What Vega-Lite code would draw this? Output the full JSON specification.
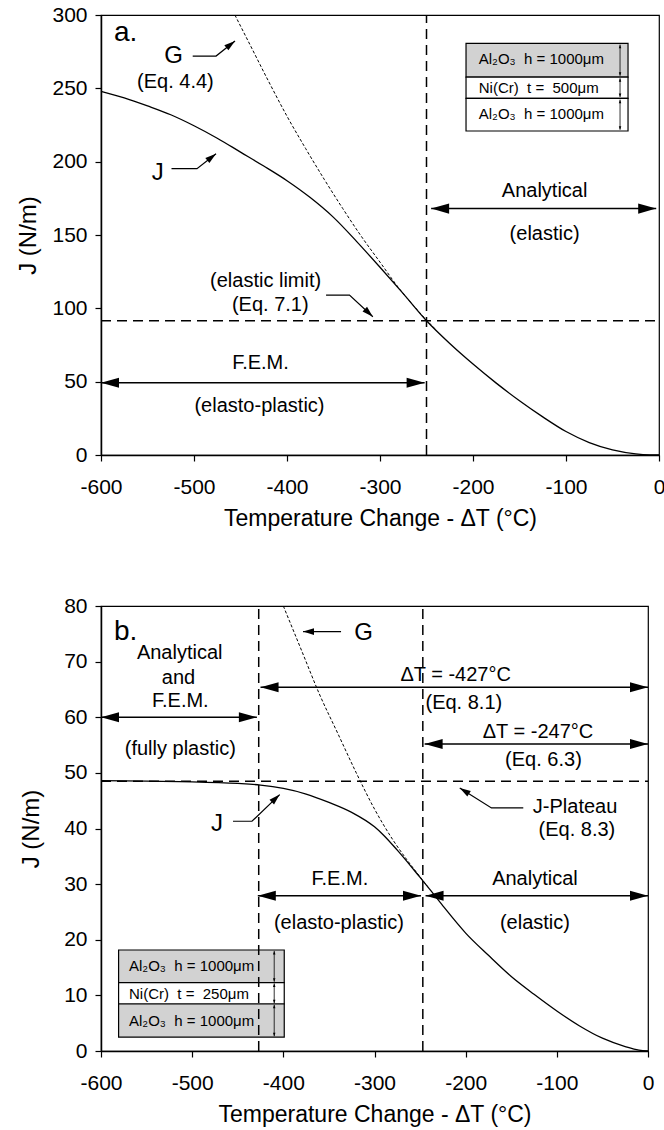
{
  "$schema": "https://vega.github.io/schema/vega-lite/v6.json",
  "padding": {"left": 16, "top": 3, "right": 0, "bottom": 0},
  "spacing": 63,
  "resolve": {"scale": {"color": "independent"}},
  "config": {
    "font": "Liberation Sans",
    "view": {"stroke": "black", "strokeWidth": 1.2},
    "axis": {"grid": false, "domainColor": "black", "domainWidth": 1.5, "tickColor": "black", "tickWidth": 1.2, "labelColor": "black", "titleColor": "black", "labelFontSize": 21, "titleFontWeight": "normal", "tickSize": 6, "labelFlush": false, "labelOverlap": false},
    "axisX": {"labelPadding": 15, "titlePadding": 10, "titleFontSize": 23},
    "axisY": {"labelPadding": 8, "titleFontSize": 24},
    "text": {"color": "black"}
  },
  "datasets": {
    "a_curves": [
      {"curve": "J", "T": -600, "J": 248}, {"curve": "J", "T": -575, "J": 243.5}, {"curve": "J", "T": -550, "J": 238}, {"curve": "J", "T": -525, "J": 232}, {"curve": "J", "T": -500, "J": 224.5}, {"curve": "J", "T": -475, "J": 216}, {"curve": "J", "T": -450, "J": 206.5}, {"curve": "J", "T": -425, "J": 197}, {"curve": "J", "T": -400, "J": 187}, {"curve": "J", "T": -375, "J": 175.5}, {"curve": "J", "T": -350, "J": 162}, {"curve": "J", "T": -325, "J": 145.5}, {"curve": "J", "T": -300, "J": 128}, {"curve": "J", "T": -275, "J": 110}, {"curve": "J", "T": -250, "J": 91.5}, {"curve": "J", "T": -225, "J": 76}, {"curve": "J", "T": -200, "J": 62}, {"curve": "J", "T": -175, "J": 49}, {"curve": "J", "T": -150, "J": 37}, {"curve": "J", "T": -125, "J": 26}, {"curve": "J", "T": -100, "J": 16}, {"curve": "J", "T": -75, "J": 8.5}, {"curve": "J", "T": -50, "J": 3.5}, {"curve": "J", "T": -25, "J": 0.8}, {"curve": "J", "T": -10, "J": 0.1}, {"curve": "J", "T": 0, "J": 0},
      {"curve": "G", "T": -456, "J": 300}, {"curve": "G", "T": -440, "J": 280}, {"curve": "G", "T": -420, "J": 255}, {"curve": "G", "T": -400, "J": 231}, {"curve": "G", "T": -380, "J": 209}, {"curve": "G", "T": -360, "J": 188}, {"curve": "G", "T": -340, "J": 168}, {"curve": "G", "T": -320, "J": 149}, {"curve": "G", "T": -300, "J": 131.5}, {"curve": "G", "T": -280, "J": 114}, {"curve": "G", "T": -260, "J": 99}, {"curve": "G", "T": -250, "J": 92}, {"curve": "G", "T": -240, "J": 85.5}
    ],
    "a_refs": [
      {"T": -250, "T2": -250, "J": 0, "J2": 300},
      {"T": -600, "T2": 0, "J": 91.5, "J2": 91.5}
    ],
    "a_spans": [
      {"T": -245, "T2": -3, "J": 168},
      {"T": -600, "T2": -252, "J": 49.3}
    ],
    "a_ptr": [
      {"id": "G", "o": 1, "T": -501.4, "J": 272}, {"id": "G", "o": 2, "T": -476.3, "J": 272}, {"id": "G", "o": 3, "T": -455.9, "J": 282.3},
      {"id": "J", "o": 1, "T": -524.2, "J": 195.2}, {"id": "J", "o": 2, "T": -496.8, "J": 195.2}, {"id": "J", "o": 3, "T": -476.3, "J": 205.4},
      {"id": "EL", "o": 1, "T": -358, "J": 109}, {"id": "EL", "o": 2, "T": -332.8, "J": 109}, {"id": "EL", "o": 3, "T": -307.7, "J": 94.3}
    ],
    "a_inset": [
      {"ply": "upper Al2O3", "T": -207.5, "T2": -33.3, "J": 257.7, "J2": 280.7},
      {"ply": "Ni(Cr)", "T": -207.5, "T2": -33.3, "J": 243.2, "J2": 257.7},
      {"ply": "lower Al2O3", "T": -207.5, "T2": -33.3, "J": 220.9, "J2": 243.2}
    ],
    "a_dims": [
      {"T": -41.9, "J": 258.6, "J2": 279.8},
      {"T": -41.9, "J": 244.1, "J2": 256.8},
      {"T": -41.9, "J": 221.8, "J2": 242.3}
    ],
    "a_text": [
      {"kind": "tag", "T": -586, "J": 282, "text": "a."},
      {"kind": "big", "T": -522, "J": 272, "text": "G"},
      {"kind": "note", "T": -520, "J": 254.3, "text": "(Eq. 4.4)"},
      {"kind": "big", "T": -539, "J": 192.6, "text": "J"},
      {"kind": "note", "T": -423, "J": 118.6, "text": "(elastic limit)"},
      {"kind": "note", "T": -418, "J": 102, "text": "(Eq. 7.1)"},
      {"kind": "note", "T": -123, "J": 180.3, "text": "Analytical"},
      {"kind": "note", "T": -123, "J": 150.7, "text": "(elastic)"},
      {"kind": "note", "T": -428.5, "J": 62.7, "text": "F.E.M."},
      {"kind": "note", "T": -429.6, "J": 33.4, "text": "(elasto-plastic)"},
      {"kind": "inset", "T": -193.8, "J": 270, "text": "Al₂O₃\u00a0\u00a0h = 1000μm"},
      {"kind": "inset", "T": -193.8, "J": 250.4, "text": "Ni(Cr)\u00a0\u00a0t =\u00a0\u00a0500μm"},
      {"kind": "inset", "T": -193.8, "J": 232.5, "text": "Al₂O₃\u00a0\u00a0h = 1000μm"}
    ],
    "b_curves": [
      {"curve": "J", "T": -600, "J": 48.6}, {"curve": "J", "T": -550, "J": 48.5}, {"curve": "J", "T": -500, "J": 48.4}, {"curve": "J", "T": -450, "J": 48.1}, {"curve": "J", "T": -425, "J": 47.8}, {"curve": "J", "T": -400, "J": 47.2}, {"curve": "J", "T": -375, "J": 46.2}, {"curve": "J", "T": -350, "J": 44.7}, {"curve": "J", "T": -325, "J": 42.9}, {"curve": "J", "T": -300, "J": 40.3}, {"curve": "J", "T": -290, "J": 38.8}, {"curve": "J", "T": -275, "J": 36.1}, {"curve": "J", "T": -260, "J": 33.2}, {"curve": "J", "T": -250, "J": 31.2}, {"curve": "J", "T": -240, "J": 29.2}, {"curve": "J", "T": -225, "J": 26.1}, {"curve": "J", "T": -200, "J": 21.2}, {"curve": "J", "T": -175, "J": 17.2}, {"curve": "J", "T": -150, "J": 13.4}, {"curve": "J", "T": -125, "J": 10.2}, {"curve": "J", "T": -100, "J": 7.2}, {"curve": "J", "T": -75, "J": 4.5}, {"curve": "J", "T": -50, "J": 2.3}, {"curve": "J", "T": -25, "J": 0.8}, {"curve": "J", "T": -10, "J": 0.15}, {"curve": "J", "T": 0, "J": 0},
      {"curve": "G", "T": -400, "J": 80}, {"curve": "G", "T": -380, "J": 72}, {"curve": "G", "T": -360, "J": 64}, {"curve": "G", "T": -340, "J": 57}, {"curve": "G", "T": -320, "J": 50}, {"curve": "G", "T": -300, "J": 43.5}, {"curve": "G", "T": -280, "J": 38}, {"curve": "G", "T": -265, "J": 34.5}, {"curve": "G", "T": -250, "J": 31.3}, {"curve": "G", "T": -240, "J": 29.2}
    ],
    "b_refs": [
      {"T": -427, "T2": -427, "J": 0, "J2": 80},
      {"T": -247, "T2": -247, "J": 0, "J2": 80},
      {"T": -600, "T2": 0, "J": 48.5, "J2": 48.5}
    ],
    "b_spans": [
      {"T": -600, "T2": -429, "J": 60},
      {"T": -425, "T2": 0, "J": 65.4},
      {"T": -245, "T2": 0, "J": 55.2},
      {"T": -428, "T2": -249, "J": 27.9},
      {"T": -244, "T2": 0, "J": 27.9}
    ],
    "b_ptr": [
      {"id": "G", "o": 1, "T": -336.7, "J": 75.4}, {"id": "G", "o": 2, "T": -378.4, "J": 75.4},
      {"id": "JP", "o": 1, "T": -136.8, "J": 43.7}, {"id": "JP", "o": 2, "T": -171.7, "J": 43.7}, {"id": "JP", "o": 3, "T": -206.5, "J": 47.3},
      {"id": "J", "o": 1, "T": -455.2, "J": 41.3}, {"id": "J", "o": 2, "T": -434.4, "J": 41.3}, {"id": "J", "o": 3, "T": -404, "J": 46.1}
    ],
    "b_inset": [
      {"ply": "upper Al2O3", "T": -580.7, "T2": -399, "J": 12.3, "J2": 18.16},
      {"ply": "Ni(Cr)", "T": -580.7, "T2": -399, "J": 8.45, "J2": 12.3},
      {"ply": "lower Al2O3", "T": -580.7, "T2": -399, "J": 2.5, "J2": 8.45}
    ],
    "b_dims": [
      {"T": -410, "J": 12.45, "J2": 18},
      {"T": -410, "J": 8.6, "J2": 12.15},
      {"T": -410, "J": 2.65, "J2": 8.3}
    ],
    "b_text": [
      {"kind": "tag", "T": -585.7, "J": 73.8, "text": "b."},
      {"kind": "note", "T": -513.7, "J": 71.5, "text": "Analytical"},
      {"kind": "note", "T": -515, "J": 67, "text": "and"},
      {"kind": "note", "T": -513, "J": 62.9, "text": "F.E.M."},
      {"kind": "note", "T": -513, "J": 54.3, "text": "(fully plastic)"},
      {"kind": "big", "T": -312, "J": 75.1, "text": "G"},
      {"kind": "note", "T": -211, "J": 67.6, "text": "ΔT = -427°C"},
      {"kind": "note", "T": -202, "J": 62.6, "text": "(Eq. 8.1)"},
      {"kind": "note", "T": -120.7, "J": 57.4, "text": "ΔT = -247°C"},
      {"kind": "note", "T": -114.7, "J": 52.4, "text": "(Eq. 6.3)"},
      {"kind": "note", "T": -80, "J": 43.9, "text": "J-Plateau"},
      {"kind": "note", "T": -78, "J": 39.7, "text": "(Eq. 8.3)"},
      {"kind": "big", "T": -472.8, "J": 40.8, "text": "J"},
      {"kind": "note", "T": -338, "J": 31, "text": "F.E.M."},
      {"kind": "note", "T": -339, "J": 23.1, "text": "(elasto-plastic)"},
      {"kind": "note", "T": -124, "J": 31, "text": "Analytical"},
      {"kind": "note", "T": -124, "J": 23.1, "text": "(elastic)"},
      {"kind": "inset", "T": -569.3, "J": 15.3, "text": "Al₂O₃\u00a0\u00a0h = 1000μm"},
      {"kind": "inset", "T": -569.3, "J": 10.3, "text": "Ni(Cr)\u00a0\u00a0t =\u00a0\u00a0250μm"},
      {"kind": "inset", "T": -569.3, "J": 5.4, "text": "Al₂O₃\u00a0\u00a0h = 1000μm"}
    ]
  },
  "vconcat": [
    {
      "width": 558,
      "height": 440,
      "encoding": {
        "x": {"field": "T", "type": "quantitative", "title": "Temperature Change - ΔT (°C)", "scale": {"domain": [-600, 0], "nice": false, "zero": false}, "axis": {"values": [-600, -500, -400, -300, -200, -100, 0], "labelExpr": "'' + datum.value"}},
        "y": {"field": "J", "type": "quantitative", "title": "J (N/m)", "scale": {"domain": [0, 300], "nice": false}, "axis": {"values": [0, 50, 100, 150, 200, 250, 300], "labelExpr": "'' + datum.value", "titlePadding": 11}}
      },
      "layer": [
        {"data": {"name": "a_inset"}, "mark": {"type": "rect", "stroke": "black", "strokeWidth": 1.2}, "encoding": {"x2": {"field": "T2"}, "y2": {"field": "J2"}, "color": {"field": "ply", "type": "nominal", "legend": null, "scale": {"domain": ["upper Al2O3", "Ni(Cr)", "lower Al2O3"], "range": ["#d2d2d2", "#ffffff", "#ffffff"]}}}},
        {"data": {"name": "a_dims"}, "mark": {"type": "rule", "color": "black", "strokeWidth": 0.8}, "encoding": {"y2": {"field": "J2"}}},
        {"data": {"name": "a_dims"}, "mark": {"type": "point", "shape": "M0,0L-0.5,-1.4L0.5,-1.4Z", "filled": true, "color": "black", "size": 25, "opacity": 1}},
        {"data": {"name": "a_dims"}, "mark": {"type": "point", "shape": "M0,0L-0.5,1.4L0.5,1.4Z", "filled": true, "color": "black", "size": 25, "opacity": 1}, "encoding": {"y": {"field": "J2", "type": "quantitative", "title": "J (N/m)"}}},
        {"data": {"name": "a_refs"}, "mark": {"type": "rule", "color": "black", "strokeWidth": 1.5, "strokeDash": [10, 6]}, "encoding": {"x2": {"field": "T2"}, "y2": {"field": "J2"}}},
        {"data": {"name": "a_curves"}, "transform": [{"filter": "datum.curve == 'G'"}], "mark": {"type": "line", "color": "black", "strokeWidth": 1, "strokeDash": [3, 2], "interpolate": "monotone"}},
        {"data": {"name": "a_curves"}, "transform": [{"filter": "datum.curve == 'J'"}], "mark": {"type": "line", "color": "black", "strokeWidth": 1.3, "interpolate": "monotone"}},
        {"data": {"name": "a_spans"}, "mark": {"type": "rule", "color": "black", "strokeWidth": 1.5}, "encoding": {"x2": {"field": "T2"}}},
        {"data": {"name": "a_spans"}, "mark": {"type": "point", "shape": "M0,0L1,-0.28L1,0.28Z", "filled": true, "color": "black", "size": 1296, "opacity": 1}},
        {"data": {"name": "a_spans"}, "mark": {"type": "point", "shape": "M0,0L-1,-0.28L-1,0.28Z", "filled": true, "color": "black", "size": 1296, "opacity": 1}, "encoding": {"x": {"field": "T2", "type": "quantitative", "title": "Temperature Change - ΔT (°C)"}}},
        {"data": {"name": "a_ptr"}, "mark": {"type": "line", "color": "black", "strokeWidth": 1.2}, "encoding": {"detail": {"field": "id"}, "order": {"field": "o"}}},
        {"data": {"name": "a_ptr"}, "transform": [{"filter": "(datum.id == 'G' || datum.id == 'J') && datum.o == 3"}], "mark": {"type": "point", "shape": "M0,0L-1,-0.3L-1,0.3Z", "filled": true, "color": "black", "size": 484, "opacity": 1, "angle": -38}},
        {"data": {"name": "a_ptr"}, "transform": [{"filter": "datum.id == 'EL' && datum.o == 3"}], "mark": {"type": "point", "shape": "M0,0L-1,-0.3L-1,0.3Z", "filled": true, "color": "black", "size": 484, "opacity": 1, "angle": 43}},
        {"data": {"name": "a_text"}, "transform": [{"filter": "datum.kind == 'note'"}], "mark": {"type": "text", "fontSize": 20, "align": "center", "baseline": "middle"}, "encoding": {"text": {"field": "text"}}},
        {"data": {"name": "a_text"}, "transform": [{"filter": "datum.kind == 'big'"}], "mark": {"type": "text", "fontSize": 24, "align": "center", "baseline": "middle"}, "encoding": {"text": {"field": "text"}}},
        {"data": {"name": "a_text"}, "transform": [{"filter": "datum.kind == 'tag'"}], "mark": {"type": "text", "fontSize": 28, "align": "left", "baseline": "alphabetic"}, "encoding": {"text": {"field": "text"}}},
        {"data": {"name": "a_text"}, "transform": [{"filter": "datum.kind == 'inset'"}], "mark": {"type": "text", "fontSize": 15, "align": "left", "baseline": "middle"}, "encoding": {"text": {"field": "text"}}}
      ]
    },
    {
      "width": 547,
      "height": 445,
      "encoding": {
        "x": {"field": "T", "type": "quantitative", "title": "Temperature Change - ΔT (°C)", "scale": {"domain": [-600, 0], "nice": false, "zero": false}, "axis": {"values": [-600, -500, -400, -300, -200, -100, 0], "labelExpr": "'' + datum.value"}},
        "y": {"field": "J", "type": "quantitative", "title": "J (N/m)", "scale": {"domain": [0, 80], "nice": false}, "axis": {"values": [0, 10, 20, 30, 40, 50, 60, 70, 80], "labelExpr": "'' + datum.value", "titlePadding": 20}}
      },
      "layer": [
        {"data": {"name": "b_inset"}, "mark": {"type": "rect", "stroke": "black", "strokeWidth": 1.2}, "encoding": {"x2": {"field": "T2"}, "y2": {"field": "J2"}, "color": {"field": "ply", "type": "nominal", "legend": null, "scale": {"domain": ["upper Al2O3", "Ni(Cr)", "lower Al2O3"], "range": ["#d2d2d2", "#ffffff", "#d2d2d2"]}}}},
        {"data": {"name": "b_dims"}, "mark": {"type": "rule", "color": "black", "strokeWidth": 0.8}, "encoding": {"y2": {"field": "J2"}}},
        {"data": {"name": "b_dims"}, "mark": {"type": "point", "shape": "M0,0L-0.5,-1.4L0.5,-1.4Z", "filled": true, "color": "black", "size": 25, "opacity": 1}},
        {"data": {"name": "b_dims"}, "mark": {"type": "point", "shape": "M0,0L-0.5,1.4L0.5,1.4Z", "filled": true, "color": "black", "size": 25, "opacity": 1}, "encoding": {"y": {"field": "J2", "type": "quantitative", "title": "J (N/m)"}}},
        {"data": {"name": "b_refs"}, "mark": {"type": "rule", "color": "black", "strokeWidth": 1.5, "strokeDash": [10, 6]}, "encoding": {"x2": {"field": "T2"}, "y2": {"field": "J2"}}},
        {"data": {"name": "b_curves"}, "transform": [{"filter": "datum.curve == 'G'"}], "mark": {"type": "line", "color": "black", "strokeWidth": 1, "strokeDash": [3, 2], "interpolate": "monotone"}},
        {"data": {"name": "b_curves"}, "transform": [{"filter": "datum.curve == 'J'"}], "mark": {"type": "line", "color": "black", "strokeWidth": 1.3, "interpolate": "monotone"}},
        {"data": {"name": "b_spans"}, "mark": {"type": "rule", "color": "black", "strokeWidth": 1.5}, "encoding": {"x2": {"field": "T2"}}},
        {"data": {"name": "b_spans"}, "mark": {"type": "point", "shape": "M0,0L1,-0.28L1,0.28Z", "filled": true, "color": "black", "size": 1296, "opacity": 1}},
        {"data": {"name": "b_spans"}, "mark": {"type": "point", "shape": "M0,0L-1,-0.28L-1,0.28Z", "filled": true, "color": "black", "size": 1296, "opacity": 1}, "encoding": {"x": {"field": "T2", "type": "quantitative", "title": "Temperature Change - ΔT (°C)"}}},
        {"data": {"name": "b_ptr"}, "mark": {"type": "line", "color": "black", "strokeWidth": 1.2}, "encoding": {"detail": {"field": "id"}, "order": {"field": "o"}}},
        {"data": {"name": "b_ptr"}, "transform": [{"filter": "datum.id == 'G' && datum.o == 2"}], "mark": {"type": "point", "shape": "M0,0L-1,-0.3L-1,0.3Z", "filled": true, "color": "black", "size": 484, "opacity": 1, "angle": 180}},
        {"data": {"name": "b_ptr"}, "transform": [{"filter": "datum.id == 'JP' && datum.o == 3"}], "mark": {"type": "point", "shape": "M0,0L-1,-0.3L-1,0.3Z", "filled": true, "color": "black", "size": 484, "opacity": 1, "angle": -148}},
        {"data": {"name": "b_ptr"}, "transform": [{"filter": "datum.id == 'J' && datum.o == 3"}], "mark": {"type": "point", "shape": "M0,0L-1,-0.3L-1,0.3Z", "filled": true, "color": "black", "size": 484, "opacity": 1, "angle": -44}},
        {"data": {"name": "b_text"}, "transform": [{"filter": "datum.kind == 'note'"}], "mark": {"type": "text", "fontSize": 20, "align": "center", "baseline": "middle"}, "encoding": {"text": {"field": "text"}}},
        {"data": {"name": "b_text"}, "transform": [{"filter": "datum.kind == 'big'"}], "mark": {"type": "text", "fontSize": 24, "align": "center", "baseline": "middle"}, "encoding": {"text": {"field": "text"}}},
        {"data": {"name": "b_text"}, "transform": [{"filter": "datum.kind == 'tag'"}], "mark": {"type": "text", "fontSize": 28, "align": "left", "baseline": "alphabetic"}, "encoding": {"text": {"field": "text"}}},
        {"data": {"name": "b_text"}, "transform": [{"filter": "datum.kind == 'inset'"}], "mark": {"type": "text", "fontSize": 15, "align": "left", "baseline": "middle"}, "encoding": {"text": {"field": "text"}}}
      ]
    }
  ]
}
